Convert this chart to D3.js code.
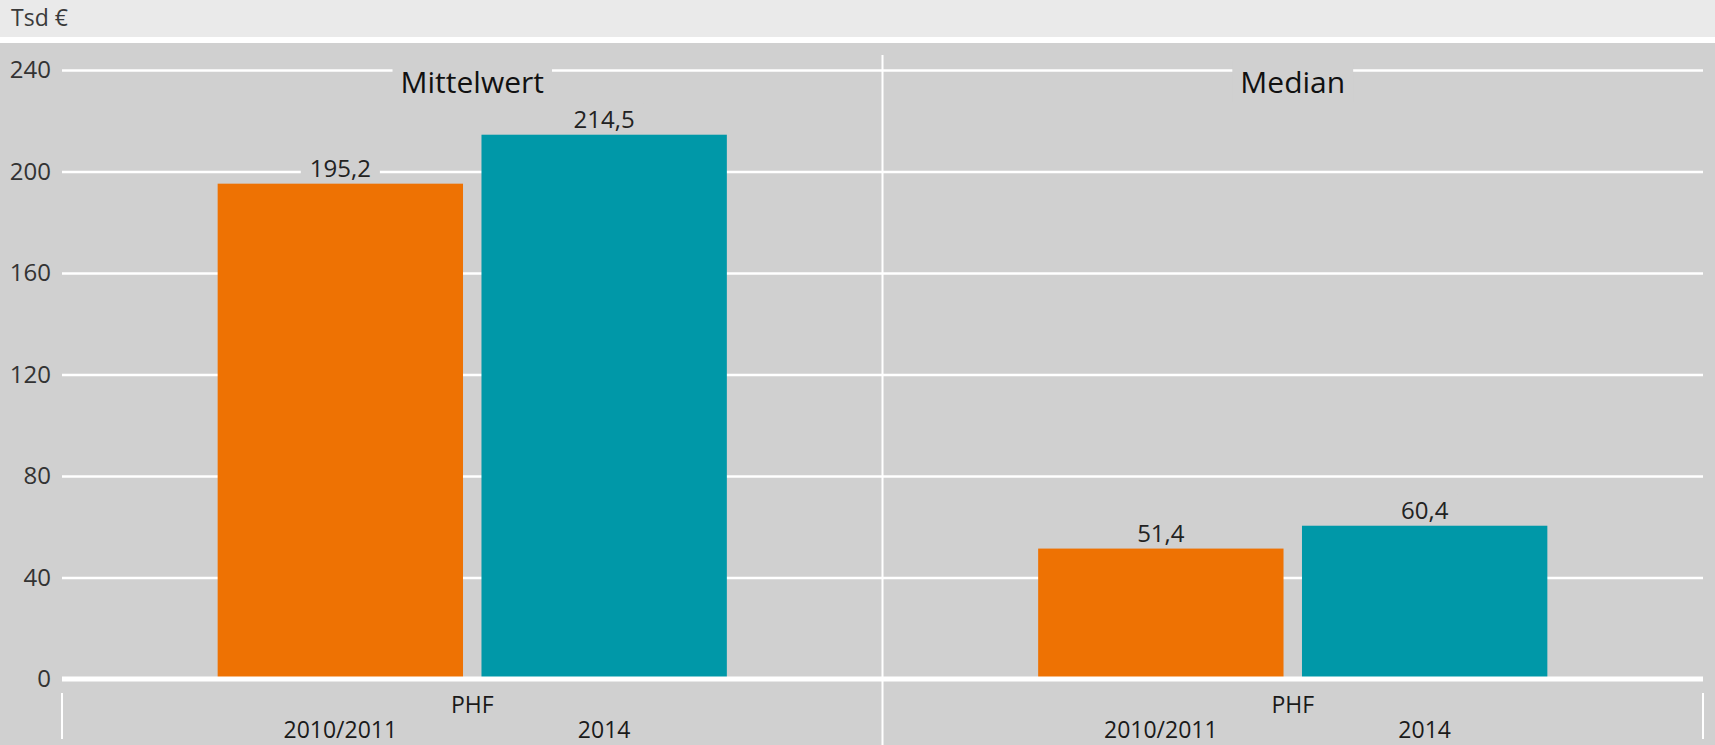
<!DOCTYPE html>
<html>
<head>
<meta charset="utf-8">
<script src="https://cdn.jsdelivr.net/npm/d3@7/dist/d3.min.js"></script>
<style>
  html, body { margin: 0; padding: 0; background: #d0d0d0; }
  svg { display: block; font-family: "Open Sans", "Noto Sans", sans-serif; }
</style>
</head>
<body>
<svg id="chart" width="1715" height="745"></svg>
<script>
// ---- data ----
const panels = ["Mittelwert", "Median"];
const series = ["2010/2011", "2014"];
const values2010 = [195.2, 51.4];
const values2014 = [214.5, 60.4];
const yTicks = [0, 40, 80, 120, 160, 200, 240];
const groupLabel = "PHF";
const unitLabel = "Tsd €";
const seriesColors = ["#ee7203", "#0098a8"];

// ---- layout ----
const W = 1715, H = 745;
const plotBg = "#d0d0d0";
const headerBg = "#eaeaea";
const plotLeft = 62, plotRight = 1703, plotTop = 70, zeroY = 679;

const svg = d3.select("#chart");

svg.append("rect").attr("x", 0).attr("y", 0).attr("width", W).attr("height", 37).attr("fill", headerBg);
svg.append("rect").attr("x", 0).attr("y", 37).attr("width", W).attr("height", 6).attr("fill", "#ffffff");
svg.append("rect").attr("x", 0).attr("y", 43).attr("width", W).attr("height", H - 43).attr("fill", plotBg);

svg.append("text").attr("x", 11).attr("y", 26)
  .attr("font-size", 23).attr("font-weight", 400).attr("fill", "#3a3a3a")
  .text(unitLabel);

const x0 = d3.scaleBand().domain(panels).range([plotLeft, plotRight]).padding(0);
const x1 = d3.scaleBand().domain(series).range([0, x0.bandwidth()])
  .paddingInner(0.07).paddingOuter(0.59);
const y = d3.scaleLinear().domain([0, 240]).range([zeroY, plotTop]);

// gridlines via axis
const yAxis = d3.axisLeft(y).tickValues(yTicks).tickSize(-(plotRight - plotLeft)).tickPadding(11);
const gy = svg.append("g").attr("transform", `translate(${plotLeft},0)`).call(yAxis);
gy.select(".domain").remove();
gy.selectAll(".tick line").attr("stroke", "#ffffff").attr("stroke-width", 2.5)
  .filter(d => d === 0).attr("stroke-width", 0);
gy.selectAll(".tick text").attr("font-size", 24).attr("font-weight", 400)
  .attr("fill", "#333").attr("font-family", "'Open Sans', sans-serif");

// panel dividers and bottom ticks
const dividers = [x0.range()[0], x0(panels[1]), x0.range()[1]];
svg.selectAll("line.div").data(dividers).enter().append("line")
  .attr("x1", d => d).attr("x2", d => d)
  .attr("y1", (d, i) => i === 1 ? 55 : 693)
  .attr("y2", (d, i) => i === 1 ? H : 739)
  .attr("stroke", "#ffffff").attr("stroke-width", 2);

// bars
const rows = panels.map((p, i) => ({ panel: p, vals: [values2010[i], values2014[i]] }));
const fmt = v => d3.format(".1f")(v).replace(".", ",");

const pg = svg.selectAll("g.panel").data(rows).enter().append("g")
  .attr("class", "panel")
  .attr("transform", d => `translate(${x0(d.panel)},0)`);

pg.selectAll("rect.bar").data(d => d.vals.map((v, j) => ({ s: series[j], v, j })))
  .enter().append("rect")
  .attr("x", d => x1(d.s)).attr("width", x1.bandwidth())
  .attr("y", d => y(d.v)).attr("height", d => zeroY - y(d.v))
  .attr("fill", d => seriesColors[d.j]);

// value labels with background masking gridlines
const lab = pg.selectAll("g.vl").data(d => d.vals.map((v, j) => ({ s: series[j], v, j })))
  .enter().append("g").attr("class", "vl")
  .attr("transform", d => `translate(${x1(d.s) + x1.bandwidth() / 2},${y(d.v) - 7})`);
lab.append("text").attr("text-anchor", "middle")
  .attr("font-size", 24).attr("font-weight", 400).attr("fill", "#222")
  .text(d => fmt(d.v));
lab.each(function () {
  const g = d3.select(this);
  const bb = g.select("text").node().getBBox();
  g.insert("rect", "text").attr("x", bb.x - 9).attr("y", bb.y + 2)
    .attr("width", bb.width + 18).attr("height", bb.height - 4).attr("fill", plotBg);
});

// panel titles
const tl = pg.append("g").attr("transform", `translate(${x0.bandwidth() / 2},93)`);
tl.append("text").attr("text-anchor", "middle")
  .attr("font-size", 30).attr("font-weight", 400).attr("fill", "#111")
  .text(d => d.panel);
tl.each(function () {
  const g = d3.select(this);
  const bb = g.select("text").node().getBBox();
  g.insert("rect", "text").attr("x", bb.x - 8).attr("y", bb.y)
    .attr("width", bb.width + 16).attr("height", bb.height).attr("fill", plotBg);
});

// zero line
svg.append("line").attr("x1", plotLeft).attr("x2", plotRight)
  .attr("y1", y(0)).attr("y2", y(0))
  .attr("stroke", "#ffffff").attr("stroke-width", 5);

// category labels
pg.append("text").attr("x", x0.bandwidth() / 2).attr("y", 713)
  .attr("text-anchor", "middle").attr("font-size", 23).attr("font-weight", 400).attr("fill", "#1a1a1a")
  .text(groupLabel);
pg.selectAll("text.yr").data(series).enter().append("text")
  .attr("class", "yr")
  .attr("x", s => x1(s) + x1.bandwidth() / 2).attr("y", 738)
  .attr("text-anchor", "middle").attr("font-size", 23).attr("font-weight", 400).attr("fill", "#1a1a1a")
  .text(s => s);
</script>
</body>
</html>
